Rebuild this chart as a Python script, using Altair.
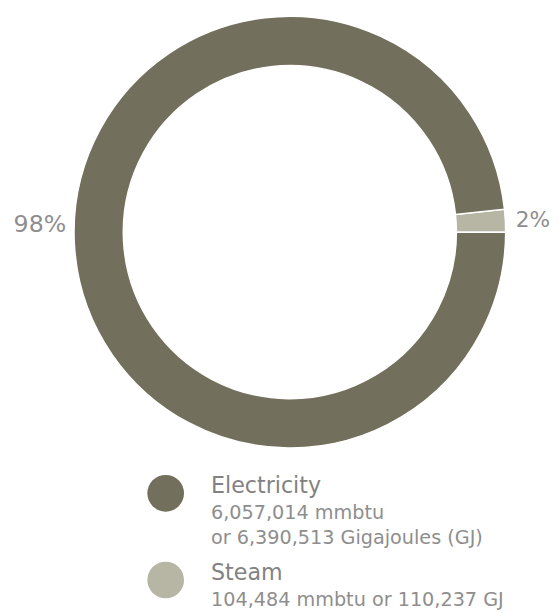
import math
import altair as alt
import pandas as pd

# ---- data ----
categories = ["Steam", "Electricity"]
mmbtu = [104484, 6057014]
gigajoules = [110237, 6390513]
pct_labels = ["2%", "98%"]
slice_order = [0, 1]
colors = ["#b7b5a3", "#726f5c"]

legend_titles = ["Electricity", "Steam"]
legend_sub = [
    ["6,057,014 mmbtu", "or 6,390,513 Gigajoules (GJ)"],
    ["104,484 mmbtu or 110,237 GJ"],
]

FONT = "DejaVu Sans"
TEXT_COLOR = "#8e8e8e"

total = sum(mmbtu)
# the small (Steam) slice ends exactly at 3 o'clock
start = math.pi / 2 - 2 * math.pi * mmbtu[0] / total
theta_scale = alt.Scale(range=[start, start + 2 * math.pi])

df = pd.DataFrame({
    "category": categories,
    "mmbtu": mmbtu,
    "gj": gigajoules,
    "label": pct_labels,
    "ord": slice_order,
})

cx, cy = 286, 223

arc = alt.Chart(df).mark_arc(
    outerRadius=219, innerRadius=169, stroke="white", strokeWidth=1.5
).encode(
    theta=alt.Theta("mmbtu:Q", stack=True, scale=theta_scale),
    order=alt.Order("ord:Q"),
    color=alt.Color("category:N", scale=alt.Scale(domain=categories, range=colors), legend=None),
    x=alt.value(cx),
    y=alt.value(cy),
)

def pct_text(cat, radius, dy, size):
    return alt.Chart(df).transform_window(
        cum="sum(mmbtu)", sort=[alt.SortField("ord")]
    ).transform_calculate(
        mid="datum.cum - datum.mmbtu / 2"
    ).transform_filter(
        alt.datum.category == cat
    ).mark_text(
        radius=radius, dy=dy, fontSize=size, font=FONT, fontWeight="normal",
        color=TEXT_COLOR, align="center", baseline="middle"
    ).encode(
        theta=alt.Theta("mid:Q", scale=theta_scale),
        text="label:N",
        x=alt.value(cx),
        y=alt.value(cy),
    )

lab_e = pct_text("Electricity", 254, -21, 24)
lab_s = pct_text("Steam", 247, 1, 22)

leg_df = pd.DataFrame({"category": legend_titles, "title": legend_titles, "sub": legend_sub})
leg_y = alt.Y("category:N", scale=alt.Scale(type="point", domain=legend_titles, range=[488, 576], padding=0), axis=None)

leg_dots = alt.Chart(leg_df).mark_circle(size=1385, opacity=1).encode(
    x=alt.value(160),
    y=leg_y,
    color=alt.Color("category:N", scale=alt.Scale(domain=categories, range=colors), legend=None),
)

leg_title = alt.Chart(leg_df).mark_text(
    align="left", baseline="alphabetic", dy=0, fontSize=22.5, font=FONT, fontWeight="normal", color="#828282"
).encode(x=alt.value(206), y=leg_y, text="title:N")

leg_sub = alt.Chart(leg_df).mark_text(
    align="left", baseline="alphabetic", dy=26, fontSize=19.5, lineHeight=25, font=FONT, fontWeight="normal", color=TEXT_COLOR
).encode(x=alt.value(206), y=leg_y, text="sub")

chart = alt.layer(arc, lab_e, lab_s, leg_dots, leg_title, leg_sub).resolve_scale(
    color="shared"
).properties(
    width=551, height=605, padding=0, autosize=alt.AutoSizeParams(type="none"), background="white"
).configure_view(stroke=None)

chart.save("out.html", embed_options={"renderer": "svg", "actions": False})
